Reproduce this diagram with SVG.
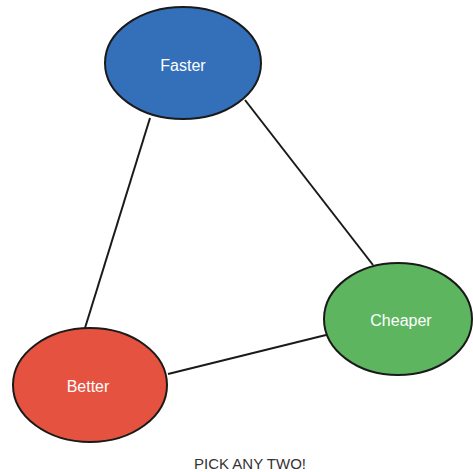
<svg xmlns="http://www.w3.org/2000/svg" width="473" height="472" viewBox="0 0 473 472">
<style>
.n{stroke:#1a1a1a;stroke-width:2}
.t{font-family:"Liberation Sans",Arial,sans-serif;font-size:16px;fill:#fff;text-anchor:middle}
.c{stroke:#1a1a1a;stroke-width:2;fill:none}
</style>
<rect width="473" height="472" fill="#fff"/>
<g id="connectors">
<line class="c" x1="150" y1="118" x2="85" y2="328"/>
<line class="c" x1="245" y1="100" x2="373" y2="265"/>
<line class="c" x1="168" y1="374" x2="326" y2="335"/>
</g>
<g id="faster">
<ellipse class="n" cx="183" cy="63" rx="78" ry="56" fill="#3470BA"/>
<text class="t" x="183" y="71">Faster</text>
</g>
<g id="better">
<ellipse class="n" cx="90" cy="385" rx="77" ry="57" fill="#E5523F"/>
<text class="t" x="88" y="392">Better</text>
</g>
<g id="cheaper">
<ellipse class="n" cx="398" cy="319" rx="74" ry="56" fill="#5DB55F"/>
<text class="t" x="401" y="326">Cheaper</text>
</g>
<text x="250" y="469" font-family="'Liberation Sans',Arial,sans-serif" font-size="15" fill="#333" text-anchor="middle">PICK ANY TWO!</text>
</svg>
